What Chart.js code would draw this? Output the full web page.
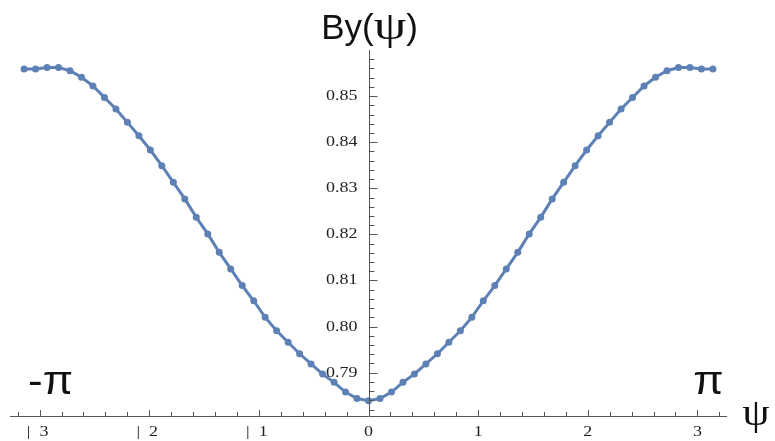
<!DOCTYPE html>
<html><head><meta charset="utf-8">
<script src="https://cdn.jsdelivr.net/npm/chart.js@4/dist/chart.umd.min.js"></script>
<style>html,body{margin:0;padding:0;background:#fff}#wrap{width:775px;height:441px;position:relative}</style>
</head><body><div id="wrap"><canvas id="c" width="775" height="441"></canvas></div>
<script>
// psi sample positions (-pi .. pi)
const psi = [
 -3.1416,-3.0369,-2.9322,-2.8274,-2.7227,-2.6180,-2.5133,-2.4086,-2.3038,-2.1991,
 -2.0944,-1.9897,-1.8850,-1.7802,-1.6755,-1.5708,-1.4661,-1.3614,-1.2566,-1.1519,
 -1.0472,-0.9425,-0.8378,-0.7330,-0.6283,-0.5236,-0.4189,-0.3142,-0.2094,-0.1047,
 0,
 0.1047,0.2094,0.3142,0.4189,0.5236,0.6283,0.7330,0.8378,0.9425,1.0472,
 1.1519,1.2566,1.3614,1.4661,1.5708,1.6755,1.7802,1.8850,1.9897,2.0944,
 2.1991,2.3038,2.4086,2.5133,2.6180,2.7227,2.8274,2.9322,3.0369,3.1416
];
// By(psi) values
const by = [
 0.8559,0.8559,0.8562,0.8562,0.8555,0.8541,0.8522,0.8497,0.8472,0.8443,
 0.8414,0.8383,0.8349,0.8313,0.8277,0.8237,0.8201,0.8161,0.8125,0.8089,
 0.8056,0.8020,0.7991,0.7966,0.7941,0.7919,0.7897,0.7879,0.7858,0.7844,
 0.7839,
 0.7844,0.7858,0.7879,0.7897,0.7919,0.7941,0.7966,0.7991,0.8020,0.8056,
 0.8089,0.8125,0.8161,0.8201,0.8237,0.8277,0.8313,0.8349,0.8383,0.8414,
 0.8443,0.8472,0.8497,0.8522,0.8541,0.8555,0.8562,0.8562,0.8559,0.8559
];
const xTickValues = [-3,-2,-1,0,1,2,3];
const xTickLabels = ['|  3','|  2','|  1','0','1','2','3'];
const yTickValues = [0.79,0.80,0.81,0.82,0.83,0.84,0.85];
const yTickLabels = ['0.79','0.80','0.81','0.82','0.83','0.84','0.85'];
const titleParts = ['By(','ψ',')'];
const xAxisLabel = 'ψ';
const leftMark = '-π';
const rightMark = 'π';

const LINE = '#5e81b5';
const AXIS = '#555555';
const SERIF = '"Liberation Serif", "DejaVu Serif", serif';
const SANS = '"Liberation Sans", Arial, sans-serif';

function stretchText(ctx, txt, x, y, font, align, baseline, sx, color) {
  ctx.save();
  ctx.font = font;
  ctx.fillStyle = color || '#111';
  ctx.textAlign = align;
  ctx.textBaseline = baseline;
  ctx.translate(x, y);
  ctx.scale(sx, 1);
  ctx.fillText(txt, 0, 0);
  ctx.restore();
}

const axesPlugin = {
  id: 'mmaAxes',
  afterDatasetsDraw(chart) {
    const ctx = chart.ctx;
    const xs = chart.scales.x, ys = chart.scales.y;
    const ca = chart.chartArea;
    const x0 = xs.getPixelForValue(0);
    const yb = ca.bottom;
    ctx.save();
    ctx.strokeStyle = AXIS;
    ctx.lineWidth = 1;
    // x axis
    ctx.beginPath();
    ctx.moveTo(ca.left, yb + 0.5); ctx.lineTo(ca.right, yb + 0.5);
    ctx.stroke();
    // y axis
    ctx.beginPath();
    ctx.moveTo(Math.round(x0) + 0.5, ca.top); ctx.lineTo(Math.round(x0) + 0.5, yb);
    ctx.stroke();
    // x ticks (minor every 0.2, major at integers)
    for (let k = -16; k <= 16; k++) {
      const v = k / 5;
      const px = Math.round(xs.getPixelForValue(v)) + 0.5;
      const len = (k % 5 === 0) ? 6 : 4;
      ctx.beginPath(); ctx.moveTo(px, yb); ctx.lineTo(px, yb - len); ctx.stroke();
    }
    // y ticks (minor every 0.002)
    for (let k = 391; k <= 429; k++) {
      const v = k / 500;
      const py = Math.round(ys.getPixelForValue(v)) + 0.5;
      const len = (k % 5 === 0) ? 8 : 5;
      const ax = Math.round(x0) + 0.5;
      ctx.beginPath(); ctx.moveTo(ax, py); ctx.lineTo(ax + len, py); ctx.stroke();
    }
    ctx.restore();
    // tick labels
    xTickValues.forEach((v, i) => {
      const px = xs.getPixelForValue(v) - (v < 0 ? 2 : 0);
      stretchText(ctx, xTickLabels[i], px, yb + 16, '15px ' + SERIF, 'center', 'middle', 1.2, '#222');
    });
    yTickValues.forEach((v, i) => {
      const py = ys.getPixelForValue(v);
      stretchText(ctx, yTickLabels[i], x0 - 11, py, '15px ' + SERIF, 'right', 'middle', 1.2, '#222');
    });
    // title By(psi)
    ctx.save();
    const f1 = '35px ' + SANS, f2 = '40px ' + SERIF;
    const s2 = 1.3;
    ctx.font = f1; const w1 = ctx.measureText(titleParts[0]).width, w3 = ctx.measureText(titleParts[2]).width;
    ctx.font = f2; const w2 = ctx.measureText(titleParts[1]).width * s2;
    const tot = w1 + w2 + w3;
    let tx = x0 + 1 - tot / 2;
    const tBase = ca.top - 11;
    stretchText(ctx, titleParts[0], tx, tBase, f1, 'left', 'alphabetic', 1, '#111');
    stretchText(ctx, titleParts[1], tx + w1, tBase, f2, 'left', 'alphabetic', s2, '#111');
    stretchText(ctx, titleParts[2], tx + w1 + w2, tBase, f1, 'left', 'alphabetic', 1, '#111');
    ctx.restore();
    // -pi, pi marks and psi axis label
    stretchText(ctx, leftMark, xs.getPixelForValue(-2.9), yb - 22, '40px ' + SANS, 'center', 'alphabetic', 1.1, '#111');
    stretchText(ctx, rightMark, xs.getPixelForValue(3.1), yb - 22, '40px ' + SANS, 'center', 'alphabetic', 1.1, '#111');
    stretchText(ctx, xAxisLabel, ca.right + 29, yb + 9, '38px ' + SERIF, 'center', 'alphabetic', 1.15, '#111');
  }
};

new Chart(document.getElementById('c'), {
  type: 'line',
  data: {
    datasets: [{
      data: psi.map((x, i) => ({x: x, y: by[i]})),
      borderColor: LINE,
      backgroundColor: LINE,
      borderWidth: 3,
      pointRadius: 3.5,
      pointBorderWidth: 0,
      pointBackgroundColor: LINE,
      tension: 0,
      clip: false
    }]
  },
  options: {
    responsive: false,
    devicePixelRatio: 1,
    animation: false,
    layout: {padding: {left: 10, right: 48, top: 50, bottom: 25}},
    plugins: {legend: {display: false}, tooltip: {enabled: false}, title: {display: false}},
    scales: {
      x: {type: 'linear', min: -3.27, max: 3.27, display: false},
      y: {type: 'linear', min: 0.7806, max: 0.86, display: false}
    }
  },
  plugins: [axesPlugin]
});
</script></body></html>
